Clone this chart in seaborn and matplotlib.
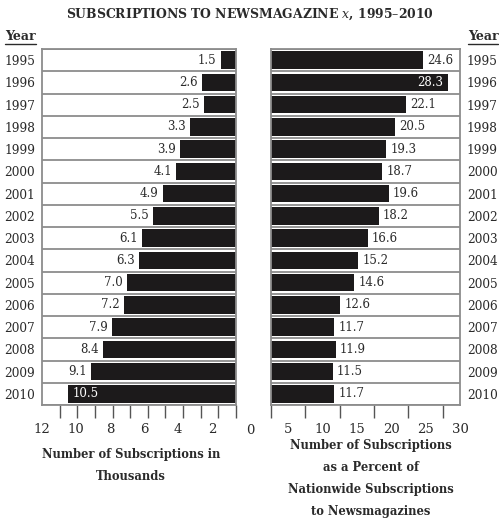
import numpy as np
import pandas as pd
import matplotlib
matplotlib.use("Agg")
import matplotlib.pyplot as plt
from matplotlib.lines import Line2D
import seaborn as sns

years = [str(y) for y in range(1995, 2011)]
thousands = [1.5, 2.6, 2.5, 3.3, 3.9, 4.1, 4.9, 5.5, 6.1, 6.3, 7.0, 7.2, 7.9, 8.4, 9.1, 10.5]
percent = [24.6, 28.3, 22.1, 20.5, 19.3, 18.7, 19.6, 18.2, 16.6, 15.2, 14.6, 12.6, 11.7, 11.9, 11.5, 11.7]
left_tick_values = [12, 10, 8, 6, 4, 2]
right_tick_values = [5, 10, 15, 20, 25, 30]

title = "SUBSCRIPTIONS TO NEWSMAGAZINE $x$, 1995\u20132010"
left_xlabel = "Number of Subscriptions in\nThousands"
right_xlabel = "Number of Subscriptions\nas a Percent of\nNationwide Subscriptions\nto Newsmagazines"

sns.set_theme(style="white")
plt.rcParams["font.family"] = ["DejaVu Serif"]
plt.rcParams["mathtext.fontset"] = "dejavuserif"

W, H = 499, 521
fig = plt.figure(figsize=(W / 100, H / 100), dpi=100)
fig.patch.set_facecolor("white")


def rect(x0, y0, x1, y1):
    return [x0 / W, 1 - y1 / H, (x1 - x0) / W, (y1 - y0) / H]


def fx(px):
    return px / W


def fy(py):
    return 1 - py / H


df = pd.DataFrame({"year": years, "thousands": thousands, "percent": percent})

BAR = "#1c1a1b"
GRID = "#8c8c8c"
TXT = "#2a2a2a"

axL = fig.add_axes(rect(42, 49, 236, 405))
axR = fig.add_axes(rect(271, 49, 460, 405))

sns.barplot(data=df, y="year", x="thousands", orient="h", color=BAR,
            saturation=1, width=0.78, linewidth=0, ax=axL)
sns.barplot(data=df, y="year", x="percent", orient="h", color=BAR,
            saturation=1, width=0.78, linewidth=0, ax=axR)

axL.set_xlim(12, 0.6)
axR.set_xlim(2.5, 30)

for ax in (axL, axR):
    ax.set_ylim(15.5, -0.5)
    ax.set_xlabel("")
    ax.set_ylabel("")
    for i in range(17):
        ax.axhline(i - 0.5, color=GRID, lw=1.3, zorder=3)
    for s in ax.spines.values():
        s.set_color(GRID)
        s.set_linewidth(1.3)
    ax.tick_params(axis="y", length=0, labelsize=8.7, labelcolor=TXT)
    ax.tick_params(axis="x", which="major", length=0, pad=13, labelsize=9.5, labelcolor=TXT)
    ax.tick_params(axis="x", which="minor", length=9, width=1.0, color="#555555", bottom=True)

axL.set_yticks(range(len(years)))
axL.set_yticklabels(years)
axL.tick_params(axis="y", pad=5)
axR.set_yticks(range(len(years)))
axR.set_yticklabels(years)
axR.yaxis.tick_right()
axR.tick_params(axis="y", pad=5, length=0)

axL.set_xticks(left_tick_values)
axL.set_xticklabels([str(v) for v in left_tick_values])
axL.set_xticks(np.linspace(12, 0.6, 12), minor=True)
axR.set_xticks(right_tick_values)
axR.set_xticklabels([str(v) for v in right_tick_values])
axR.set_xticks(np.linspace(2.5, 30, 12), minor=True)

# value labels
for i, v in enumerate(thousands):
    if v >= 10:
        axL.annotate(f"{v:.1f}", (v, i), xytext=(4, 0), textcoords="offset points",
                     ha="left", va="center", color="white", fontsize=8.5, zorder=5)
    else:
        axL.annotate(f"{v:.1f}", (v, i), xytext=(-3, 0), textcoords="offset points",
                     ha="right", va="center", color=TXT, fontsize=8.5, zorder=5)
for i, v in enumerate(percent):
    if v >= 27:
        axR.annotate(f"{v:.1f}", (v, i), xytext=(-4, 0), textcoords="offset points",
                     ha="right", va="center", color="white", fontsize=8.5, zorder=5)
    else:
        axR.annotate(f"{v:.1f}", (v, i), xytext=(3, 0), textcoords="offset points",
                     ha="left", va="center", color=TXT, fontsize=8.5, zorder=5)

# center zero label
fig.text(fx(250), fy(430), "0", ha="center", va="center", fontsize=9.5, color=TXT)

# title and headings
fig.text(fx(250), fy(14), title, ha="center", va="center", fontsize=8.9,
         fontweight="bold", color=TXT)
fig.text(fx(20), fy(36), "Year", ha="center", va="center", fontsize=9,
         fontweight="bold", color=TXT)
fig.text(fx(483), fy(36), "Year", ha="center", va="center", fontsize=9,
         fontweight="bold", color=TXT)
fig.add_artist(Line2D([fx(5), fx(36)], [fy(44), fy(44)], color=TXT, lw=1))
fig.add_artist(Line2D([fx(468), fx(498)], [fy(44), fy(44)], color=TXT, lw=1))

fig.text(fx(131), fy(448), left_xlabel, ha="center", va="top", fontsize=8.3,
         fontweight="bold", color=TXT, linespacing=1.9)
fig.text(fx(371), fy(439), right_xlabel, ha="center", va="top", fontsize=8.3,
         fontweight="bold", color=TXT, linespacing=1.9)

fig.savefig("out.png", dpi=100, facecolor="white")
